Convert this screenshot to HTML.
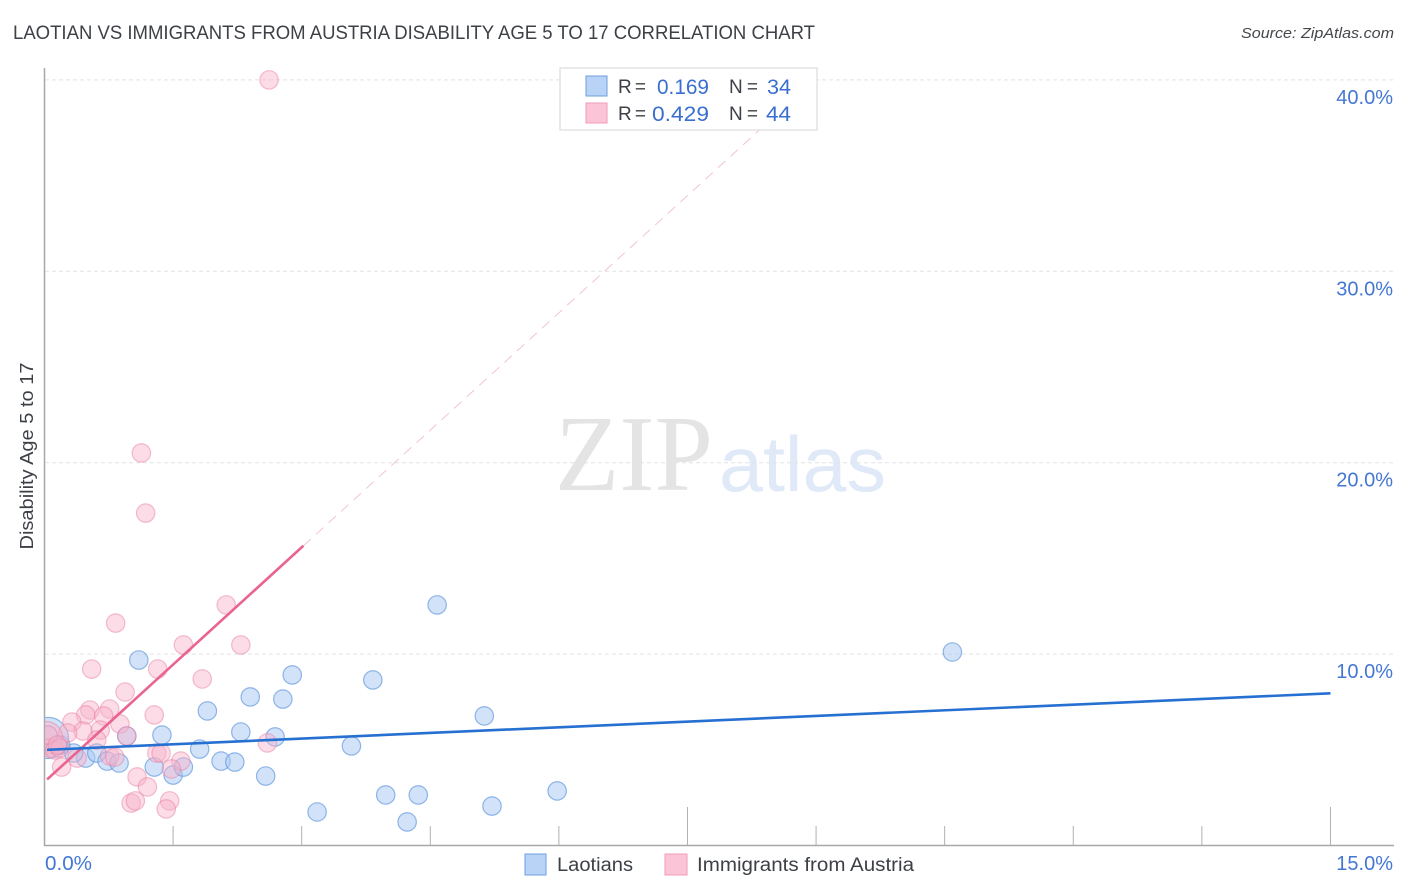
<!DOCTYPE html>
<html lang="en">
<head>
<meta charset="utf-8">
<title>Laotian vs Immigrants from Austria Disability Age 5 to 17 Correlation Chart</title>
<style>
html,body{margin:0;padding:0;background:#fff;}
svg{display:block;font-family:"Liberation Sans",sans-serif;}
</style>
</head>
<body>
<svg id="chart" xmlns="http://www.w3.org/2000/svg" width="1406" height="892" viewBox="0 0 1406 892">
  <defs>
    <clipPath id="plot-clip"><rect x="45" y="60" width="1349" height="785"></rect></clipPath>
  </defs>
  <text x="13" y="39" font-size="19" fill="#3d4046" textLength="802" lengthAdjust="spacingAndGlyphs">LAOTIAN VS IMMIGRANTS FROM AUSTRIA DISABILITY AGE 5 TO 17 CORRELATION CHART</text>
  <text x="1394" y="38" font-size="15" font-style="italic" fill="#44474c" text-anchor="end" textLength="153" lengthAdjust="spacingAndGlyphs">Source: ZipAtlas.com</text>
  <text x="555" y="490" font-family="'Liberation Serif',serif" font-size="108" fill="#e4e4e4" textLength="158" lengthAdjust="spacingAndGlyphs">ZIP</text>
  <text x="719" y="491" font-size="78" fill="#dfe9f8" textLength="167" lengthAdjust="spacingAndGlyphs">atlas</text>
  <g id="grid"></g>
  <g id="axes"></g>
  <g id="points" clip-path="url(#plot-clip)"></g>
  <g id="lines"></g>
  <g id="stats-legend">
    <rect x="560" y="68" width="257" height="62" fill="#ffffff" fill-opacity="0.93" stroke="#dcdcdc" stroke-width="1.2"></rect>
    <rect x="586" y="76" width="21" height="20" fill="#b9d3f6" stroke="#6d9fe0" stroke-width="1"></rect>
    <rect x="586" y="103" width="21" height="20" fill="#fbc5d7" stroke="#f09ab8" stroke-width="1"></rect>
    <text x="618" y="93" font-size="19" fill="#3d4046" textLength="28">R =</text>
    <text x="709" y="94" font-size="21" fill="#3a6fd0" text-anchor="end" textLength="52" lengthAdjust="spacingAndGlyphs">0.169</text>
    <text x="729" y="93" font-size="19" fill="#3d4046" textLength="29">N =</text>
    <text x="791" y="94" font-size="21" fill="#3a6fd0" text-anchor="end" textLength="24" lengthAdjust="spacingAndGlyphs">34</text>
    <text x="618" y="120" font-size="19" fill="#3d4046" textLength="28">R =</text>
    <text x="709" y="121" font-size="21" fill="#3a6fd0" text-anchor="end" textLength="57" lengthAdjust="spacingAndGlyphs">0.429</text>
    <text x="729" y="120" font-size="19" fill="#3d4046" textLength="29">N =</text>
    <text x="791" y="121" font-size="21" fill="#3a6fd0" text-anchor="end" textLength="25" lengthAdjust="spacingAndGlyphs">44</text>
  </g>
  <g id="series-legend">
    <rect x="525" y="854" width="21" height="21" fill="#b9d3f6" stroke="#6d9fe0" stroke-width="1"></rect>
    <text x="557" y="871" font-size="19" fill="#3d4046" textLength="76" lengthAdjust="spacingAndGlyphs">Laotians</text>
    <rect x="665" y="854" width="22" height="21" fill="#fbc5d7" stroke="#f09ab8" stroke-width="1"></rect>
    <text x="697" y="871" font-size="19" fill="#3d4046" textLength="217" lengthAdjust="spacingAndGlyphs">Immigrants from Austria</text>
  </g>
  <text transform="translate(33,456) rotate(-90)" font-size="18.5" fill="#3d4046" text-anchor="middle" textLength="187" lengthAdjust="spacingAndGlyphs">Disability Age 5 to 17</text>
</svg>
<script>
const yTickValues = [10, 20, 30, 40];
const yTickLabels = ["10.0%", "20.0%", "30.0%", "40.0%"];
const xTickValues = [1.5, 3, 4.5, 6, 7.5, 9, 10.5, 12, 13.5, 15];
const xMajorTicks = [7.5, 15];
const xEndLabels = ["0.0%", "15.0%"];

const laotianX = [4.58, 10.59, 1.10, 2.89, 3.83, 2.40, 2.78, 1.90, 5.13, 2.29, 1.37, 0.96, 2.69, 3.58, 1.81, 2.06, 2.22, 0.48, 0.61, 0.73, 0.87, 0.34, 0.19, 0.04, 1.28, 1.50, 1.62, 2.58, 3.18, 3.98, 4.36, 4.23, 5.22, 5.98];
const laotianY = [12.57, 10.11, 9.69, 8.91, 8.65, 7.76, 7.65, 7.03, 6.77, 5.93, 5.77, 5.72, 5.67, 5.20, 5.04, 4.41, 4.36, 4.57, 4.83, 4.41, 4.31, 4.83, 5.25, 5.62, 4.10, 3.68, 4.10, 3.63, 1.75, 2.64, 2.64, 1.23, 2.06, 2.85];
const laotianWeight = [1, 1, 1, 1, 1, 1, 1, 1, 1, 1, 1, 1, 1, 1, 1, 1, 1, 1, 1, 1, 1, 1, 1, 5, 1, 1, 1, 1, 1, 1, 1, 1, 1, 1];

const austriaX = [2.62, 1.13, 1.18, 2.12, 0.83, 1.62, 2.29, 0.55, 1.32, 1.84, 0.94, 1.28, 0.53, 0.76, 0.48, 0.69, 0.32, 0.88, 0.45, 0.65, 0.27, 0.61, 0.96, 2.60, 1.31, 1.36, 0.76, 0.82, 0.38, 0.20, 1.08, 1.20, 1.01, 1.06, 1.46, 1.42, 1.59, 1.48, 0.02, 0.06, 0.12, 0.18, 0.04, 0.15];
const austriaY = [40.0, 20.51, 17.37, 12.57, 11.62, 10.48, 10.48, 9.22, 9.22, 8.70, 8.02, 6.82, 7.08, 7.13, 6.82, 6.77, 6.45, 6.35, 5.98, 6.03, 5.88, 5.51, 5.72, 5.36, 4.83, 4.83, 4.68, 4.62, 4.57, 4.10, 3.58, 3.06, 2.22, 2.33, 2.33, 1.91, 4.41, 4.00, 5.62, 5.09, 4.99, 5.09, 5.77, 5.25];
const austriaWeight = [1, 1, 1, 1, 1, 1, 1, 1, 1, 1, 1, 1, 1, 1, 1, 1, 1, 1, 1, 1, 1, 1, 1, 1, 1, 1, 1, 1, 1, 1, 1, 1, 1, 1, 1, 1, 1, 1, 3.2, 1, 1, 1, 1, 1];

const laotianTrendX = [0.03, 15];
const laotianTrendY = [5.0, 7.95];
const austriaSolidX = [0.03, 3.02];
const austriaSolidY = [3.45, 15.66];
const austriaDashX = [3.02, 8.98];
const austriaDashY = [15.66, 40];

const NS = "http://www.w3.org/2000/svg";
const xScale = function (v) { return 44.5 + v * 85.73; };
const yScale = function (v) { return 845.5 - v * 19.14; };
const radius = function (w) { return 9.2 * Math.sqrt(w); };

function make(tag, parent, props) {
  const el = document.createElementNS(NS, tag);
  Object.keys(props).forEach(function (k) { el.setAttribute(k, props[k]); });
  parent.appendChild(el);
  return el;
}

const grid = document.getElementById("grid");
const axes = document.getElementById("axes");
const pts = document.getElementById("points");
const lines = document.getElementById("lines");

yTickValues.forEach(function (v, i) {
  const line = make("line", grid, { x1: 45, x2: 1394, y1: yScale(v), y2: yScale(v), stroke: "#e2e2e2", "stroke-width": 1, "stroke-dasharray": "4 3" });
  
  
  const label = make("text", axes, { x: 1393, y: yScale(v) + 24, "font-size": 20, fill: "#4477d4", "text-anchor": "end" });
  
  
  label.textContent = yTickLabels[i];
});

const yAxis = make("line", axes, { x1: 44.5, x2: 44.5, y1: 68, y2: 846, stroke: "#a8a8a8", "stroke-width": 1.5 });


const xAxis = make("line", axes, { x1: 44, x2: 1394, y1: 845.5, y2: 845.5, stroke: "#a8a8a8", "stroke-width": 1.5 });



xTickValues.forEach(function (v) {
  const top = xMajorTicks.indexOf(v) >= 0 ? 807 : 826;
  const tick = make("line", axes, { x1: xScale(v), x2: xScale(v), y1: top, y2: 845, stroke: "#b0b0b0", "stroke-width": 1 });
  
  
});

const xLabelLeft = make("text", axes, { x: 45, y: 870, "font-size": 20, fill: "#4477d4", textLength: 47, lengthAdjust: "spacingAndGlyphs" });


xLabelLeft.textContent = xEndLabels[0];
const xLabelRight = make("text", axes, { x: 1393, y: 870, "font-size": 20, fill: "#4477d4", "text-anchor": "end" });


xLabelRight.textContent = xEndLabels[1];

laotianX.forEach(function (x, i) {
  const c = make("circle", pts, { cx: xScale(x), cy: yScale(laotianY[i]), r: radius(laotianWeight[i]), fill: "#a9c9f3", "fill-opacity": 0.52, stroke: "#5b93dc", "stroke-opacity": 0.65, "stroke-width": 1.2 });
  
  
});
austriaX.forEach(function (x, i) {
  const c = make("circle", pts, { cx: xScale(x), cy: yScale(austriaY[i]), r: radius(austriaWeight[i]), fill: "#f7b2ca", "fill-opacity": 0.45, stroke: "#ea7fa3", "stroke-opacity": 0.5, "stroke-width": 1.2 });
  
  
});

const austriaDash = make("line", lines, { x1: xScale(austriaDashX[0]), y1: yScale(austriaDashY[0]), x2: xScale(austriaDashX[1]), y2: yScale(austriaDashY[1]), stroke: "#f2c4d3", "stroke-width": 1, "stroke-dasharray": "10 7" });


const austriaSolid = make("line", lines, { x1: xScale(austriaSolidX[0]), y1: yScale(austriaSolidY[0]), x2: xScale(austriaSolidX[1]), y2: yScale(austriaSolidY[1]), stroke: "#e9648f", "stroke-width": 2.6 });


const laotianLine = make("line", lines, { x1: xScale(laotianTrendX[0]), y1: yScale(laotianTrendY[0]), x2: xScale(laotianTrendX[1]), y2: yScale(laotianTrendY[1]), stroke: "#2670d2", "stroke-width": 2.6 });


</script>
</body>
</html>
